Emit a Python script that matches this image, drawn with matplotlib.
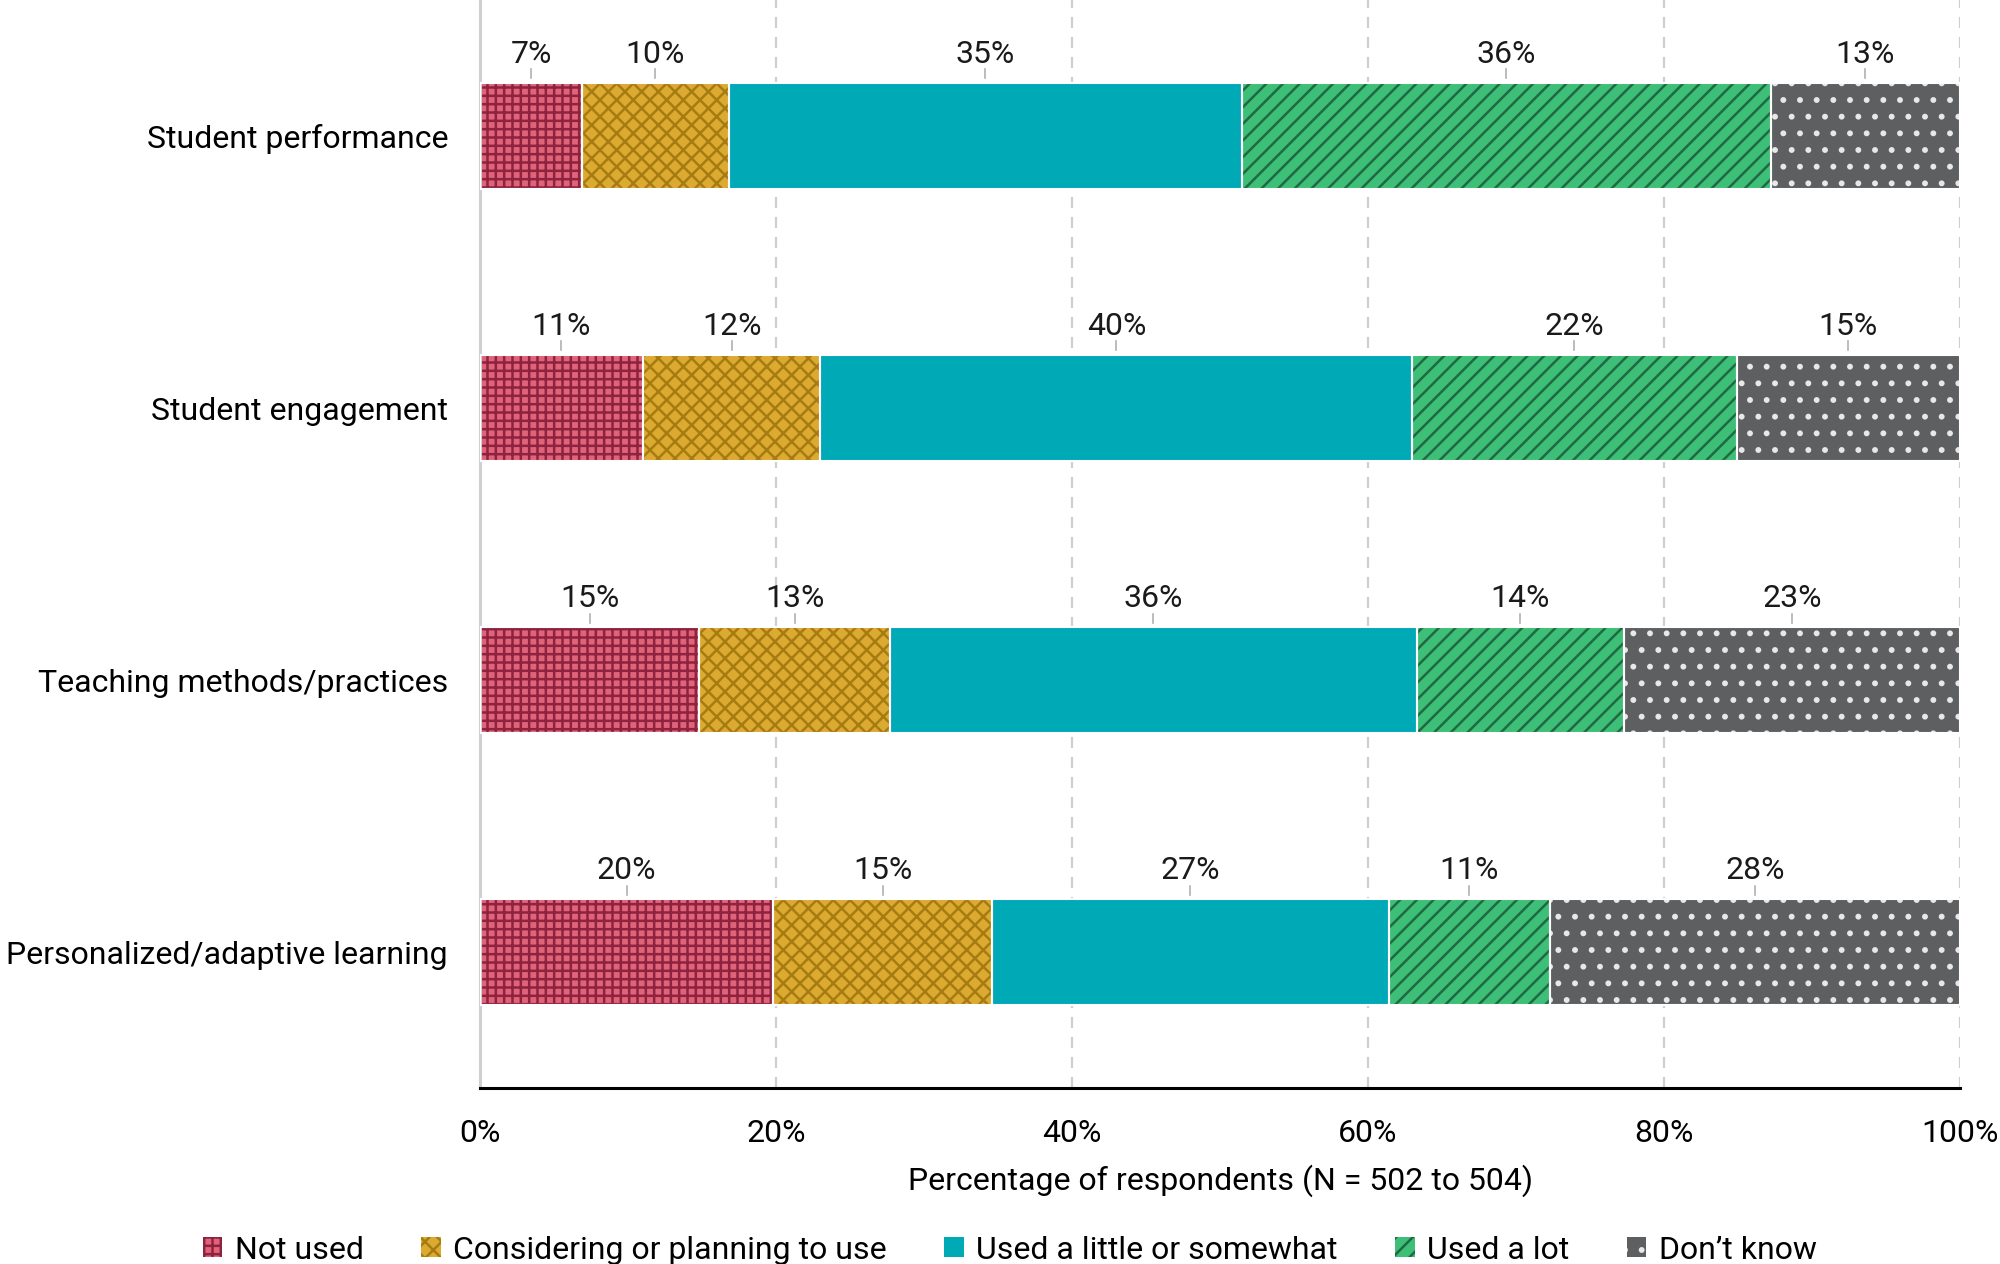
import matplotlib
matplotlib.use("Agg")
import matplotlib.pyplot as plt
from matplotlib.patches import Patch
import numpy as np

plt.rcParams['font.family'] = ['Roboto', 'DejaVu Sans']
plt.rcParams['hatch.linewidth'] = 1.8

# data
categories = ['Student performance', 'Student engagement',
              'Teaching methods/practices', 'Personalized/adaptive learning']
responses = ['Not used', 'Considering or planning to use',
             'Used a little or somewhat', 'Used a lot', 'Don\u2019t know']
not_used = [6.9, 11.0, 14.8, 19.8]
considering = [9.9, 12.0, 12.9, 14.8]
used_little = [34.7, 40.0, 35.6, 26.8]
used_lot = [35.7, 21.9, 14.0, 10.9]
dont_know = [12.8, 15.1, 22.7, 27.7]
labels_pct = [[7, 10, 35, 36, 13],
              [11, 12, 40, 22, 15],
              [15, 13, 36, 14, 23],
              [20, 15, 27, 11, 28]]
xticks = [0, 20, 40, 60, 80, 100]

# styles
fills = ['#e0637a', '#dcaa30', '#00a9b6', '#3dbf78', '#5e5f61']
hatch_cols = ['#8e2340', '#a67c12', '#00a9b6', '#1f6a42', '#e8e8e8']
hatches = ['++', 'xx', None, '//', '.']
fs = 23

series = [not_used, considering, used_little, used_lot, dont_know]

fig = plt.figure(figsize=(20, 12.64), dpi=100)
ax = fig.add_axes([0.24, 0.139, 0.74, 0.861])

y = np.arange(len(categories))
bar_h = 0.39
left = np.zeros(len(categories))
for i, vals in enumerate(series):
    vals = np.array(vals)
    # hatched fill (hatch colour comes from the edgecolor)
    ax.barh(y, vals, left=left, height=bar_h, color=fills[i],
            edgecolor=hatch_cols[i], hatch=hatches[i], linewidth=0, zorder=2)
    # white separator outline
    ax.barh(y, vals, left=left, height=bar_h, fill=False,
            edgecolor='white', linewidth=1.5, zorder=3)
    for j in range(len(categories)):
        mid = left[j] + vals[j] / 2
        ax.text(mid, y[j] - 0.30, f'{labels_pct[j][i]}%', ha='center',
                va='center', fontsize=fs, color='#1a1a1a', zorder=4)
        ax.plot([mid, mid], [y[j] - 0.245, y[j] - 0.212], color='#b0b0b0',
                linewidth=1.2, zorder=4)
    left = left + vals

ax.set_xlim(0, 100)
ax.set_ylim(len(categories) - 0.5, -0.5)
ax.set_yticks(y)
ax.set_yticklabels(categories, fontsize=fs)
ax.set_xticks(xticks)
ax.set_xticklabels([f'{t}%' for t in xticks], fontsize=fs)
ax.tick_params(axis='y', length=0, pad=23)
ax.tick_params(axis='x', length=0, pad=22)
ax.set_xlabel('Percentage of respondents (N = 502 to 504)', fontsize=fs,
              labelpad=12)

for t in xticks[1:]:
    ax.axvline(t, color='#cfcfcf', linestyle=(0, (5, 4)), linewidth=1.6, zorder=1)

for s in ['top', 'right']:
    ax.spines[s].set_visible(False)
ax.spines['left'].set_color('#d0d0d0')
ax.spines['left'].set_linewidth(2.2)
ax.spines['bottom'].set_color('black')
ax.spines['bottom'].set_linewidth(2.2)

handles = [Patch(facecolor=fills[i], edgecolor=hatch_cols[i], hatch=hatches[i],
                 linewidth=0, label=responses[i]) for i in range(len(responses))]
fig.legend(handles=handles, loc='center', bbox_to_anchor=(0.505, 0.011),
           ncol=5, frameon=False, fontsize=fs, handlelength=0.6,
           handleheight=0.6, handletextpad=0.4, columnspacing=1.8)

fig.savefig('out.png', dpi=100)
